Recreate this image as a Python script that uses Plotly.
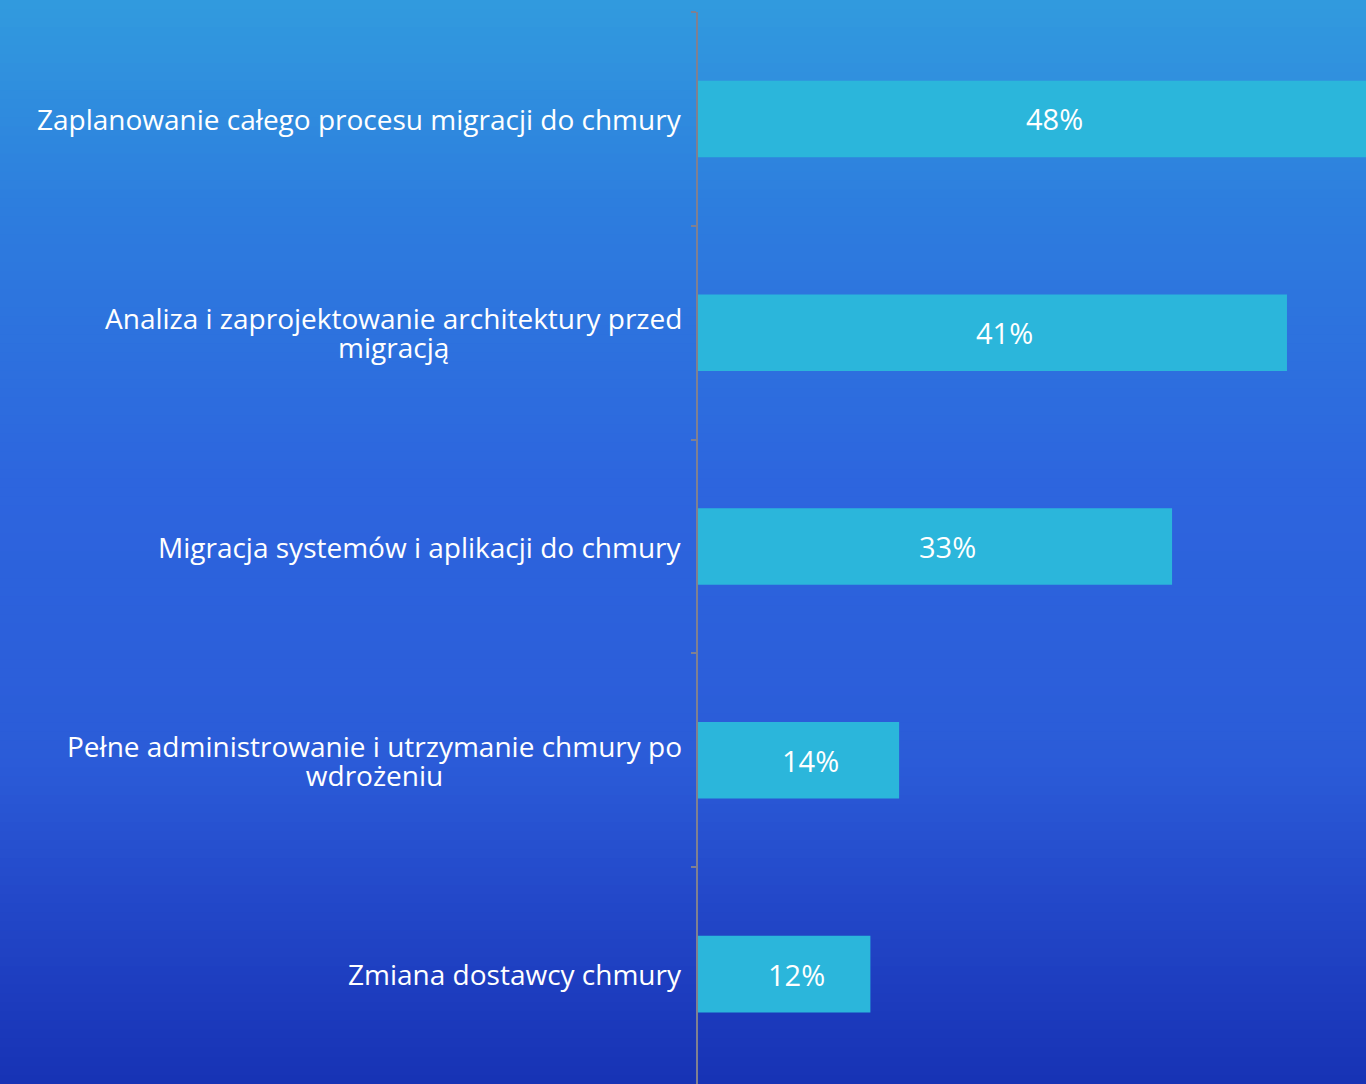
import plotly.graph_objects as go

categories = [
    "Zaplanowanie całego procesu migracji do chmury",
    "Analiza i zaprojektowanie architektury przed<br>migracją",
    "Migracja systemów i aplikacji do chmury",
    "Pełne administrowanie i utrzymanie chmury po<br>wdrożeniu",
    "Zmiana dostawcy chmury",
]
values = [48, 41, 33, 14, 12]
value_labels = ["48%", "41%", "33%", "14%", "12%"]

W, H = 1366, 1084
FONT = "Open Sans"
BAR = "#2bb6db"
LSIZE = 28
LINE_H = 29

fig = go.Figure()
fig.add_trace(go.Bar(
    y=categories, x=values, orientation="h",
    marker=dict(color=BAR, line=dict(width=0)),
    width=0.358, hoverinfo="skip", cliponaxis=True,
))

# gradient background
stops = [(0.0, (0x31, 0x9b, 0xde)), (0.2, (0x2d, 0x7c, 0xde)), (0.45, (0x2d, 0x65, 0xde)),
         (0.7, (0x2b, 0x5c, 0xd8)), (0.83, (0x23, 0x48, 0xc9)), (1.0, (0x17, 0x32, 0xb4))]
def col(t):
    for (t0, c0), (t1, c1) in zip(stops[:-1], stops[1:]):
        if t0 <= t <= t1:
            f = (t - t0) / (t1 - t0)
            return "rgb(%d,%d,%d)" % tuple(round(a + (b - a) * f) for a, b in zip(c0, c1))
    return "rgb(%d,%d,%d)" % stops[-1][1]
N = 120
shapes = []
for i in range(N):
    t0, t1 = i / N, (i + 1) / N
    shapes.append(dict(type="rect", xref="paper", yref="paper", x0=0, x1=1,
                       y0=1 - t1 - 0.001, y1=1 - t0, layer="below",
                       line=dict(width=0), fillcolor=col((t0 + t1) / 2)))

annotations = []
base_size = LINE_H / 1.3  # plotly line spacing = 1.3em of the annotation font
for c in categories:
    txt = "<br>".join('<span style="font-size:%dpx">%s</span>' % (LSIZE, ln)
                      for ln in c.split("<br>"))
    annotations.append(dict(x=684 / W, xref="paper", y=c, yref="y", text=txt,
                            xanchor="right", yanchor="middle", align="center",
                            showarrow=False,
                            font=dict(family=FONT, size=base_size, color="white")))
for c, v, lab in zip(categories, values, value_labels):
    annotations.append(dict(x=v / 2, xref="x", y=c, yref="y", text=lab, xshift=12,
                            xanchor="center", yanchor="middle", showarrow=False,
                            font=dict(family=FONT, size=29, color="white")))

fig.update_layout(
    width=W, height=H, margin=dict(l=0, r=0, t=0, b=0, pad=0),
    paper_bgcolor="#2d64dd", plot_bgcolor="rgba(0,0,0,0)",
    shapes=shapes, annotations=annotations, showlegend=False,
    xaxis=dict(domain=[698 / W, 1], range=[0, 46.5], visible=False, fixedrange=True),
    yaxis=dict(domain=[0, 1 - 12 / H], type="category", range=[4.514, -0.5],
               showticklabels=False, showgrid=False, zeroline=False,
               showline=True, linecolor="#808090", linewidth=2,
               ticks="outside", ticklen=5, tickcolor="#808090", tickwidth=2,
               tickson="boundaries"),
)
fig.write_html("out.html", config={"displayModeBar": False},
               post_script="document.body.style.margin='0';")
